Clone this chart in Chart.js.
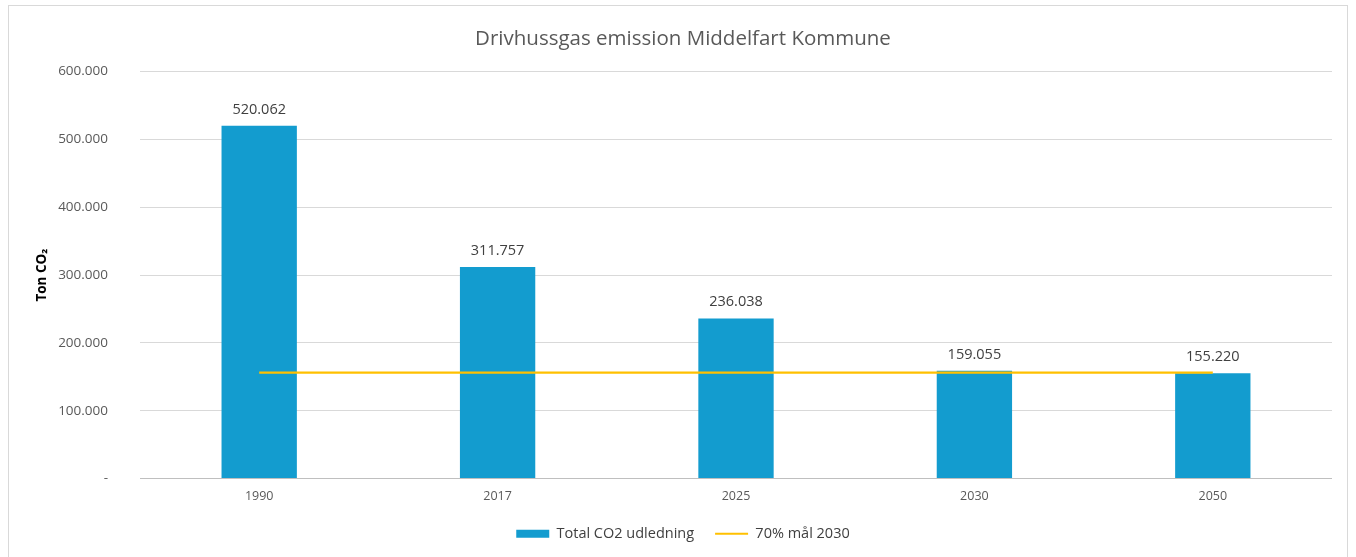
<!DOCTYPE html>
<html>
<head>
<meta charset="utf-8">
<script src="https://cdn.jsdelivr.net/npm/chart.js@4.4.1/dist/chart.umd.min.js"></script>
<style>
  html, body { margin: 0; padding: 0; background: #fff; }
  #wrap { position: relative; width: 1356px; height: 557px; }
</style>
</head>
<body>
<div id="wrap"><canvas id="emissionChart" width="1356" height="557"></canvas></div>
<script>
// Chart data
const years = ['1990', '2017', '2025', '2030', '2050'];
const totalCO2 = [520062, 311757, 236038, 159055, 155220];
const target2030 = [156019, 156019, 156019, 156019, 156019];
const yTicks = [0, 100000, 200000, 300000, 400000, 500000, 600000];

const barColor = '#139ccf';
const lineColor = '#ffc000';
const fontStack = "'Open Sans', 'Noto Sans', sans-serif";

// Danish thousands separator, zero shown as a dash
function formatDa(value) {
    if (value === 0) return '-';
    return value.toLocaleString('en-US').replace(/,/g, '.');
}

// Outer frame like the Excel chart area
const framePlugin = {
    id: 'frame',
    beforeDraw(chart) {
        const ctx = chart.ctx;
        ctx.save();
        ctx.strokeStyle = '#d9d9d9';
        ctx.lineWidth = 1;
        ctx.strokeRect(8.5, 5.5, 1339, 560);
        ctx.restore();
    }
};

// Value labels above the bars
const barLabels = {
    id: 'barLabels',
    afterDatasetsDraw(chart) {
        const ctx = chart.ctx;
        const meta = chart.getDatasetMeta(0);
        ctx.save();
        ctx.fillStyle = '#404040';
        ctx.font = `14.5px ${fontStack}`;
        ctx.textAlign = 'center';
        ctx.textBaseline = 'bottom';
        meta.data.forEach((bar, i) => {
            ctx.fillText(formatDa(totalCO2[i]), bar.x, bar.y - 9);
        });
        ctx.restore();
    }
};

const ctx = document.getElementById('emissionChart').getContext('2d');
new Chart(ctx, {
    type: 'bar',
    data: {
        labels: years,
        datasets: [
            {
                type: 'bar',
                label: 'Total CO2 udledning',
                data: totalCO2,
                backgroundColor: barColor,
                borderWidth: 0,
                barPercentage: 0.316,
                categoryPercentage: 1,
                order: 1
            },
            {
                type: 'line',
                label: '70% mål 2030',
                data: target2030,
                borderColor: lineColor,
                backgroundColor: lineColor,
                borderWidth: 2.2,
                pointRadius: 0,
                fill: false,
                tension: 0,
                order: 0
            }
        ]
    },
    options: {
        responsive: false,
        animation: false,
        devicePixelRatio: 1,
        layout: {
            padding: { left: 34, right: 24, top: 10, bottom: 6 }
        },
        plugins: {
            title: {
                display: true,
                text: 'Drivhussgas emission Middelfart Kommune',
                color: '#595959',
                font: { family: fontStack, size: 20.5, weight: 'normal' },
                padding: { top: 17, bottom: 20 }
            },
            legend: {
                position: 'bottom',
                labels: {
                    color: '#404040',
                    font: { family: fontStack, size: 14.5 },
                    usePointStyle: true,
                    pointStyleWidth: 33,
                    boxWidth: 33,
                    boxHeight: 8,
                    padding: 21,
                    generateLabels(chart) {
                        const items = Chart.defaults.plugins.legend.labels.generateLabels(chart);
                        items.sort((a, b) => a.datasetIndex - b.datasetIndex);
                        items.forEach(item => {
                            if (item.datasetIndex === 0) {
                                item.pointStyle = 'rect';
                                item.lineWidth = 0;
                            } else {
                                item.pointStyle = 'line';
                                item.lineWidth = 2.2;
                            }
                        });
                        return items;
                    }
                }
            },
            tooltip: { enabled: false }
        },
        scales: {
            x: {
                grid: { display: false },
                border: { display: false },
                ticks: {
                    color: '#595959',
                    font: { family: fontStack, size: 12.5 },
                    padding: 2
                }
            },
            y: {
                min: 0,
                max: 600000,
                afterBuildTicks(scale) {
                    scale.ticks = yTicks.map(v => ({ value: v }));
                },
                afterFit(scale) {
                    scale.width = 106;
                },
                grid: {
                    color: ctx => ctx.tick && ctx.tick.value === 0 ? '#bfbfbf' : '#d9d9d9',
                    drawTicks: false
                },
                border: { display: false },
                ticks: {
                    color: '#595959',
                    font: { family: fontStack, size: 13.5 },
                    padding: 32,
                    callback: value => formatDa(value)
                },
                title: {
                    display: true,
                    text: 'Ton CO₂',
                    color: '#000000',
                    font: { family: fontStack, size: 13.5, weight: 'bold' },
                    padding: 0
                }
            }
        }
    },
    plugins: [framePlugin, barLabels]
});
</script>
</body>
</html>
